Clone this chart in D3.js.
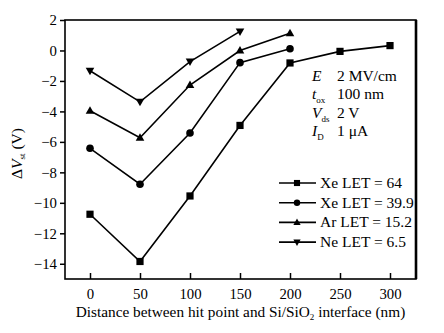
<!DOCTYPE html>
<html>
<head>
<meta charset="utf-8">
<script src="https://cdn.jsdelivr.net/npm/d3@7"></script>
<style>
  body { margin: 0; background: #fff; }
</style>
</head>
<body>
<svg id="chart" width="444" height="333"></svg>
<script>
// distances (nm)
const distances = [0, 50, 100, 150, 200, 250, 300];
// ΔVst (V) per ion
const xe64 = [-10.75, -13.85, -9.55, -4.92, -0.82, -0.06, 0.32];
const xe399 = [-6.42, -8.78, -5.42, -0.8, 0.11];
const ar152 = [-3.96, -5.73, -2.27, 0.0, 1.13];
const ne65 = [-1.33, -3.37, -0.73, 1.25];
const seriesNames = ['Xe LET = 64', 'Xe LET = 39.9', 'Ar LET = 15.2', 'Ne LET = 6.5'];
const seriesSymbols = ['square', 'circle', 'triangle', 'triangleDown'];
const yTicks = [2, 0, -2, -4, -6, -8, -10, -12, -14];
const xTicks = [0, 50, 100, 150, 200, 250, 300];

const FONT = '"Liberation Serif", "Times New Roman", serif';
const margin = { top: 20, right: 28, bottom: 54, left: 65 };
const W = 444, H = 333;
const svg = d3.select('#chart');

const x = d3.scaleLinear().domain([-25, 326]).range([margin.left, W - margin.right]);
const y = d3.scaleLinear().domain([-15, 2]).range([H - margin.bottom, margin.top]);

const series = [xe64, xe399, ar152, ne65].map((vals, i) => ({
  name: seriesNames[i],
  sym: seriesSymbols[i],
  pts: vals.map((v, j) => [distances[j], v])
}));

// axes
const yAxis = svg.append('g')
  .attr('transform', `translate(${margin.left},0)`)
  .call(d3.axisLeft(y).tickValues(yTicks).tickSize(5).tickPadding(3).tickSizeOuter(0));
const xAxis = svg.append('g')
  .attr('transform', `translate(0,${H - margin.bottom})`)
  .call(d3.axisBottom(x).tickValues(xTicks).tickSize(-6).tickPadding(9).tickSizeOuter(0));
[yAxis, xAxis].forEach(g => {
  g.attr('font-family', null);
  g.select('.domain').remove();
  g.selectAll('line').attr('stroke', '#000').attr('stroke-width', 1.5);
  g.selectAll('text').attr('fill', '#000')
    .style('font-family', FONT).style('font-size', '14.8px');
});

// frame
const x0 = margin.left, x1 = W - margin.right, y0 = margin.top, y1 = H - margin.bottom;
svg.append('rect').attr('x', x0).attr('y', y0).attr('width', x1 - x0).attr('height', y1 - y0)
  .attr('fill', 'none').attr('stroke', '#000').attr('stroke-width', 1.6);
svg.append('line').attr('x1', x1).attr('x2', x1).attr('y1', y0).attr('y2', y1)
  .attr('stroke', '#000').attr('stroke-width', 2.6);

const line = d3.line().x(d => x(d[0])).y(d => y(d[1]));

function drawSymbol(g, sym, cx, cy, k = 1) {
  if (sym === 'square') {
    const h = 3.6 * k;
    g.append('rect').attr('x', cx - h).attr('y', cy - h).attr('width', 2 * h).attr('height', 2 * h).attr('fill', '#000');
  } else if (sym === 'circle') {
    g.append('circle').attr('cx', cx).attr('cy', cy).attr('r', 3.8 * k).attr('fill', '#000');
  } else if (sym === 'triangle') {
    g.append('path').attr('d', `M${cx},${cy - 4.5 * k}L${cx + 4.3 * k},${cy + 3 * k}L${cx - 4.3 * k},${cy + 3 * k}Z`).attr('fill', '#000');
  } else {
    g.append('path').attr('d', `M${cx},${cy + 4.5 * k}L${cx + 4.3 * k},${cy - 3 * k}L${cx - 4.3 * k},${cy - 3 * k}Z`).attr('fill', '#000');
  }
}

series.forEach(s => {
  svg.append('path').datum(s.pts).attr('d', line)
    .attr('fill', 'none').attr('stroke', '#000').attr('stroke-width', 1.6);
  const g = svg.append('g');
  s.pts.forEach(p => drawSymbol(g, s.sym, x(p[0]), y(p[1])));
});

function txt(sel) {
  return sel.style('font-family', FONT).attr('fill', '#000');
}

// legend
const legend = svg.append('g');
series.forEach((s, i) => {
  const ly = 183 + i * 19.7;
  legend.append('line').attr('x1', 279).attr('x2', 316).attr('y1', ly).attr('y2', ly)
    .attr('stroke', '#000').attr('stroke-width', 1.6);
  drawSymbol(legend, s.sym, 297, ly, 0.85);
  txt(legend.append('text')).attr('x', 320).attr('y', ly + 5).style('font-size', '15.5px').text(s.name);
});

// conditions
const cond = [
  { sym: 'E', sub: '', val: '2 MV/cm' },
  { sym: 't', sub: 'ox', val: '100 nm' },
  { sym: 'V', sub: 'ds', val: '2 V' },
  { sym: 'I', sub: 'D', val: '1 μA' }
];
cond.forEach((c, i) => {
  const cy = 81 + i * 18.3;
  const t = txt(svg.append('text')).attr('x', 312).attr('y', cy).style('font-size', '15.5px');
  t.append('tspan').attr('font-style', 'italic').text(c.sym);
  if (c.sub) t.append('tspan').style('font-size', '9px').attr('dy', 4).text(c.sub);
  txt(svg.append('text')).attr('x', 337).attr('y', cy).style('font-size', '15.5px').text(c.val);
});

// axis titles
txt(svg.append('text')).attr('x', (x0 + x1) / 2 + 0).attr('y', 317).attr('text-anchor', 'middle')
  .style('font-size', '15.3px')
  .call(t => {
    t.append('tspan').text('Distance between hit point and Si/SiO');
    t.append('tspan').style('font-size', '9px').attr('dy', 3).text('2');
    t.append('tspan').attr('dy', -3).text(' interface (nm)');
  });

txt(svg.append('text')).attr('transform', `translate(22,${(y0 + y1) / 2 + 4}) rotate(-90)`)
  .attr('text-anchor', 'middle').style('font-size', '15.5px')
  .call(t => {
    t.append('tspan').text('Δ');
    t.append('tspan').attr('font-style', 'italic').text('V');
    t.append('tspan').style('font-size', '9px').attr('dy', 3).text('st');
    t.append('tspan').attr('dy', -3).text(' (V)');
  });
</script>
</body>
</html>
